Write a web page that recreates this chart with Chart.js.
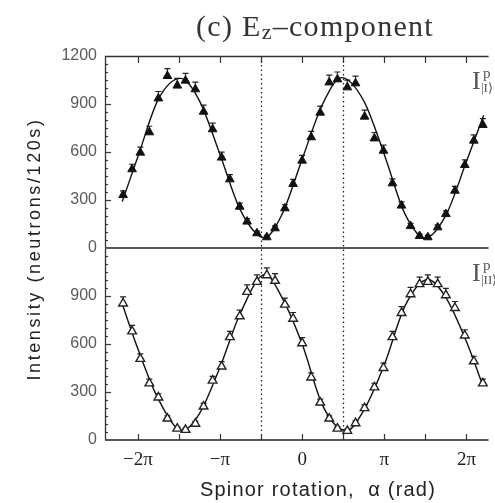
<!DOCTYPE html>
<html>
<head>
<meta charset="utf-8">
<script src="https://cdn.jsdelivr.net/npm/chart.js@4.4.1/dist/chart.umd.min.js"></script>
<style>
  html, body { margin: 0; padding: 0; background: #fff; }
  #wrap { width: 495px; height: 503px; }
</style>
</head>
<body>
<div id="wrap"><canvas id="ezChart" width="495" height="503"></canvas></div>
<script>
// spinor rotation angle of each measurement, in units of pi
const alpha = [-2.18, -2.07, -1.97, -1.86, -1.75, -1.64, -1.52, -1.42, -1.30, -1.20,
               -1.09, -0.98, -0.88, -0.76, -0.67, -0.55, -0.43, -0.33, -0.21, -0.11,
                0.00,  0.11,  0.22,  0.33,  0.43,  0.55,  0.65,  0.76,  0.88,  0.99,
                1.10,  1.21,  1.32,  1.43,  1.53,  1.65,  1.75,  1.86,  1.98,  2.09, 2.20];

// counts per 120 s, upper panel (filled triangles)
const countsI = [331, 492, 596, 723, 935, 1075, 1015, 1046, 992, 852,
                 742, 565, 429, 258, 165, 92, 67, 123, 248, 400,
                 546, 692, 846, 1035, 1054, 1004, 1029, 821, 685, 608,
                 404, 265, 137, 75, 67, 129, 212, 358, 519, 671, 769];

// counts per 120 s, lower panel (open triangles)
const countsII = [853, 679, 507, 354, 266, 134, 71, 63, 102, 209,
                  371, 459, 643, 773, 926, 988, 1030, 995, 846, 758,
                  605, 391, 234, 134, 71, 57, 105, 199, 329, 450,
                  643, 794, 911, 974, 988, 974, 905, 825, 653, 492, 354];

// fitted curves, sampled at a few angles
const fitAlphaI = [-2.19, -2, -1.75, -1.48, -1.25, -1, -0.75, -0.46, -0.25, 0, 0.25, 0.48, 0.75, 1, 1.25, 1.5, 1.75, 2, 2.21];
const fitI = [290, 570, 930, 1060, 920, 585, 235, 65, 205, 555, 900, 1065, 920, 585, 215, 62, 205, 540, 830];
const fitAlphaII = [-2.19, -2, -1.75, -1.46, -1.25, -1, -0.75, -0.45, -0.25, 0, 0.25, 0.54, 0.75, 1, 1.25, 1.53, 1.75, 2, 2.2];
const fitII = [850, 570, 255, 60, 165, 455, 795, 1035, 895, 600, 215, 58, 185, 470, 835, 1003, 890, 615, 340];

const guideAngles = [-0.5, 0.5];
const xTickValues = [-2, -1.5, -1, -0.5, 0, 0.5, 1, 1.5, 2];
const xTickLabels = {'-2': '\u22122\u03c0', '-1': '\u2212\u03c0', '0': '0', '1': '\u03c0', '2': '2\u03c0'};
const yTickValues = [0, 300, 600, 900, 1200];

const pts = (xs, ys) => xs.map((x, i) => ({x: x, y: ys[i]}));
// counting error of each point
const countErr = v => Math.sqrt(2 * v);

const decor = {
  id: 'decor',
  beforeDatasetsDraw(chart) {
    const {ctx, chartArea: a, scales} = chart;
    const x = scales.x;
    ctx.save();
    // dotted guides through both panels
    ctx.strokeStyle = '#222';
    ctx.lineWidth = 1.3;
    ctx.setLineDash([1.5, 3]);
    guideAngles.forEach(g => {
      const px = Math.round(x.getPixelForValue(g)) + 0.5;
      ctx.beginPath();
      ctx.moveTo(px, a.top);
      ctx.lineTo(px, a.bottom);
      ctx.stroke();
    });
    ctx.setLineDash([]);
    // error bars, upper half only (lower half sits behind the marker)
    ctx.lineWidth = 1.2;
    [[countsI, scales.yTop], [countsII, scales.yBot]].forEach(([vals, y]) => {
      vals.forEach((v, i) => {
        const px = x.getPixelForValue(alpha[i]);
        const py = y.getPixelForValue(v);
        const pt = y.getPixelForValue(v + countErr(v));
        ctx.beginPath();
        ctx.moveTo(px, py);
        ctx.lineTo(px, pt);
        ctx.moveTo(px - 3, pt);
        ctx.lineTo(px + 3, pt);
        ctx.stroke();
      });
    });
    ctx.restore();
  },
  afterDraw(chart) {
    const {ctx, chartArea: a, scales} = chart;
    const x = scales.x;
    ctx.save();
    ctx.strokeStyle = '#333';
    // frame
    ctx.lineWidth = 1.3;
    ctx.beginPath();
    ctx.moveTo(a.left + 0.5, a.bottom);
    ctx.lineTo(a.left + 0.5, a.top + 0.5);
    ctx.lineTo(a.right, a.top + 0.5);
    ctx.stroke();
    ctx.strokeStyle = '#555';
    ctx.lineWidth = 2;
    [scales.yTop.bottom, a.bottom].forEach(yy => {
      ctx.beginPath();
      ctx.moveTo(a.left, yy);
      ctx.lineTo(a.right, yy);
      ctx.stroke();
    });
    // inward ticks
    ctx.strokeStyle = '#333';
    ctx.lineWidth = 1.2;
    xTickValues.forEach(v => {
      const px = Math.round(x.getPixelForValue(v)) + 0.5;
      ctx.beginPath();
      ctx.moveTo(px, a.top);
      ctx.lineTo(px, a.top + 7);
      ctx.moveTo(px, a.bottom);
      ctx.lineTo(px, a.bottom - 6);
      ctx.stroke();
    });
    [scales.yTop, scales.yBot].forEach(y => {
      for (let v = 50; v < 1200; v += 50) {
        const py = Math.round(y.getPixelForValue(v)) + 0.5;
        const len = v % 300 === 0 ? 6 : 3;
        ctx.beginPath();
        ctx.moveTo(a.left, py);
        ctx.lineTo(a.left + len, py);
        ctx.stroke();
      }
    });

    // title
    ctx.fillStyle = '#333';
    ctx.textBaseline = 'alphabetic';
    ctx.letterSpacing = '1.3px';
    const big = '30px "Liberation Serif", "DejaVu Serif", serif';
    const small = '22px "Liberation Serif", "DejaVu Serif", serif';
    const parts = [['(c) E', big, 0], ['z', small, 3], ['\u2013component', big, 0]];
    ctx.font = big;
    let total = 0;
    parts.forEach(p => { ctx.font = p[1]; total += ctx.measureText(p[0]).width; });
    let tx = 315 - total / 2;
    parts.forEach(p => {
      ctx.font = p[1];
      ctx.fillText(p[0], tx, 36 + p[2]);
      tx += ctx.measureText(p[0]).width;
    });

    // axis titles
    ctx.fillStyle = '#222';
    ctx.font = '20px "Liberation Sans", Arial, sans-serif';
    ctx.letterSpacing = '1.2px';
    ctx.textAlign = 'center';
    ctx.textBaseline = 'middle';
    ctx.fillText('Spinor rotation,  \u03b1 (rad)', 318, 490);
    ctx.save();
    ctx.translate(35, 249);
    ctx.rotate(-Math.PI / 2);
    ctx.font = '18px "Liberation Sans", Arial, sans-serif';
    ctx.letterSpacing = '2.6px';
    ctx.fillText('Intensity (neutrons/120s)', 0, 0);
    ctx.restore();

    // panel labels at the right edge
    ctx.letterSpacing = '0px';
    ctx.textAlign = 'left';
    ctx.textBaseline = 'alphabetic';
    ctx.fillStyle = '#555';
    [[scales.yTop.top, '|I\u27e9'], [scales.yBot.top, '|II\u27e9']].forEach(([top, ket]) => {
      const base = top + 33;
      ctx.font = '26px "Liberation Serif", serif';
      ctx.fillText('I', 472, base);
      ctx.font = '15px "Liberation Serif", serif';
      ctx.fillText('p', 483, base - 11);
      ctx.font = '13px "Liberation Serif", serif';
      ctx.fillText(ket, 481, base + 3);
    });
    ctx.restore();
  }
};

new Chart(document.getElementById('ezChart'), {
  type: 'scatter',
  data: {
    datasets: [{
      label: 'fit I',
      data: pts(fitAlphaI, fitI),
      yAxisID: 'yTop',
      showLine: true,
      cubicInterpolationMode: 'monotone',
      borderColor: '#111',
      borderWidth: 1.4,
      pointRadius: 0,
      order: 3
    }, {
      label: 'fit II',
      data: pts(fitAlphaII, fitII),
      yAxisID: 'yBot',
      showLine: true,
      cubicInterpolationMode: 'monotone',
      borderColor: '#111',
      borderWidth: 1.4,
      pointRadius: 0,
      order: 3
    }, {
      label: 'I',
      data: pts(alpha, countsI),
      yAxisID: 'yTop',
      pointStyle: 'triangle',
      pointRadius: 5,
      backgroundColor: '#111',
      borderColor: '#111',
      borderWidth: 1,
      order: 1
    }, {
      label: 'II',
      data: pts(alpha, countsII),
      yAxisID: 'yBot',
      pointStyle: 'triangle',
      pointRadius: 5,
      backgroundColor: '#fff',
      borderColor: '#222',
      borderWidth: 1.4,
      order: 1
    }]
  },
  options: {
    responsive: false,
    animation: false,
    layout: { padding: { top: 56, left: 0, right: 0, bottom: 0 } },
    plugins: { legend: { display: false }, tooltip: { enabled: false } },
    scales: {
      x: {
        type: 'linear',
        min: -2.40,
        max: 2.27,
        afterBuildTicks: s => { s.ticks = xTickValues.map(v => ({value: v})); },
        afterFit: s => { s.height = 63; },
        grid: { display: false, drawTicks: false },
        border: { display: false },
        ticks: {
          autoSkip: false,
          maxRotation: 0,
          padding: 9,
          color: '#222',
          font: { family: '"Liberation Serif", "DejaVu Serif", serif', size: 19 },
          callback: v => xTickLabels[String(v)] || ''
        }
      },
      yBot: {
        type: 'linear',
        position: 'left',
        stack: 'intensity',
        stackWeight: 1,
        min: 0,
        max: 1200,
        afterBuildTicks: s => { s.ticks = yTickValues.map(v => ({value: v})); },
        afterFit: s => { s.width = 105; },
        grid: { display: false, drawTicks: false },
        border: { display: false },
        ticks: {
          padding: 8,
          color: '#5a5a5a',
          font: { family: '"Liberation Sans", Arial, sans-serif', size: 16 },
          callback: v => v === 1200 ? '' : v
        }
      },
      yTop: {
        type: 'linear',
        position: 'left',
        stack: 'intensity',
        stackWeight: 1,
        min: 0,
        max: 1200,
        afterBuildTicks: s => { s.ticks = yTickValues.map(v => ({value: v})); },
        afterFit: s => { s.width = 105; },
        grid: { display: false, drawTicks: false },
        border: { display: false },
        ticks: {
          padding: 8,
          color: '#5a5a5a',
          font: { family: '"Liberation Sans", Arial, sans-serif', size: 16 },
          callback: v => v
        }
      }
    }
  },
  plugins: [decor]
});
</script>
</body>
</html>
